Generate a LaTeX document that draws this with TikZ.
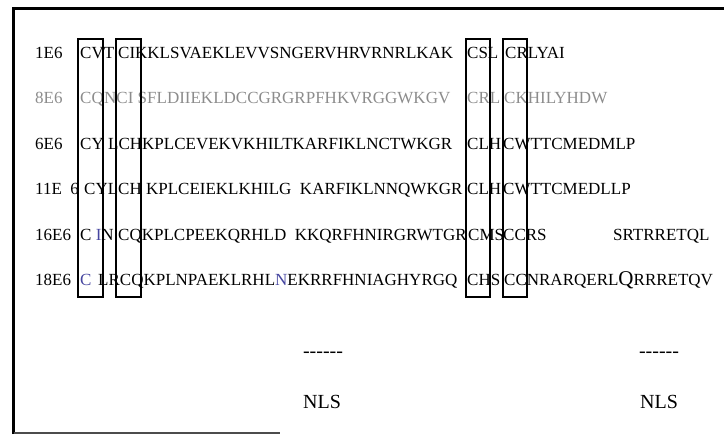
\documentclass[tikz,border=0pt]{standalone}
\usepackage{fontspec}
\setmainfont{Liberation Serif}
\usepackage{xcolor}
\usepackage{tikz}
\definecolor{scanblue}{RGB}{70,70,160}
\newcommand{\seqfont}{\fontsize{17}{20}\selectfont}

\begin{document}
\begin{tikzpicture}[x=1pt, y=-1pt,
  seq/.style={font=\seqfont, anchor=base west, inner sep=0pt},
  faint/.style={seq, text=black!45},
  box/.style={draw, line width=1.6pt},
  nls/.style={font=\fontsize{20}{24}\selectfont, inner sep=0pt}]
  \useasboundingbox (0,0) rectangle (724,437);

  % frame
  \draw[line width=3pt] (13.5,434) -- (13.5,8) -- (724,8);
  \draw[line width=1.5pt, black!70] (13.5,433) -- (280,433);

  % 1E6
  \node[seq] (l1) at (35,58) {1E6};
  \node[seq] (a1) at (80,58) {CVT};
  \node[seq] (b1) at (118,58) {CIKKLSVAEKLEVVSNGERVHRVRNRLKAK};
  \node[seq] (c1) at (467,58) {CSL};
  \node[seq] (d1) at (505,58) {CRLYAI};

  % 8E6
  \node[faint] (l2) at (35,103) {8E6};
  \node[faint] (a2) at (80,103) {CQ};
  \node[faint] (b2) at (104,103) {NCI SFLDIIEKLDCCGRGRPFHKVRGGWKGV};
  \node[faint] (c2) at (467,103) {CRL};
  \node[faint] (d2) at (504,103) {CKHILYHDW};

  % 6E6
  \node[seq] (l3) at (35,149) {6E6};
  \node[seq] (a3) at (80,149) {CY};
  \node[seq] (b3) at (108,149) {LCHKPLCEVEKVKHILTKARFIKLNCTWKGR};
  \node[seq] (c3) at (467,149) {CLH};
  \node[seq] (d3) at (503,149) {CWTTCMEDMLP};

  % 11E6
  \node[seq] (l4) at (35,194) {11E \ 6};
  \node[seq] (a4) at (84,194) {CYL};
  \node[seq] (b4) at (118,194) {CH KPLCEIEKLKHILG \ KARFIKLNNQWKGR};
  \node[seq] (c4) at (467,194) {CLH};
  \node[seq] (d4) at (503,194) {CWTTCMEDLLP};

  % 16E6
  \node[seq] (l5) at (35,240) {16E6};
  \node[seq] (a5) at (80,240) {C \textcolor{scanblue}{I}N};
  \node[seq] (b5) at (118,240) {CQKPLCPEEKQRHLD \ KKQRFHNIRGRWTGR};
  \node[seq] (c5) at (468,240) {CMS};
  \node[seq] (d5) at (503,240) {CCRS};
  \node[seq] (e5) at (613,240) {SRTRRETQL};

  % 18E6
  \node[seq] (l6) at (35,285) {18E6};
  \node[seq] (a6) at (80,285) {\textcolor{scanblue}{C}};
  \node[seq] (b6) at (98,285) {LRCQKPLNPAEKLRHL\textcolor{scanblue}{N}EKRRFHNIAGHYRGQ};
  \node[seq] (c6) at (467,285) {CHS};
  \node[seq] (d6) at (504,285) {CCNRARQERL{\fontsize{21}{24}\selectfont Q}RRRETQV};

  % conserved cysteine boxes
  \foreach \xa/\xb in {78/103,116/141,466/490,503/527}
    \draw[box] (\xa,39) rectangle (\xb,297);

  % NLS marks
  \node[nls] (dl) at (323,355) {-{}-{}-{}-{}-{}-};
  \node[nls] (nl) at (322,402) {NLS};
  \node[nls] (dr) at (659,355) {-{}-{}-{}-{}-{}-};
  \node[nls] (nr) at (659,402) {NLS};
\end{tikzpicture}
\end{document}
